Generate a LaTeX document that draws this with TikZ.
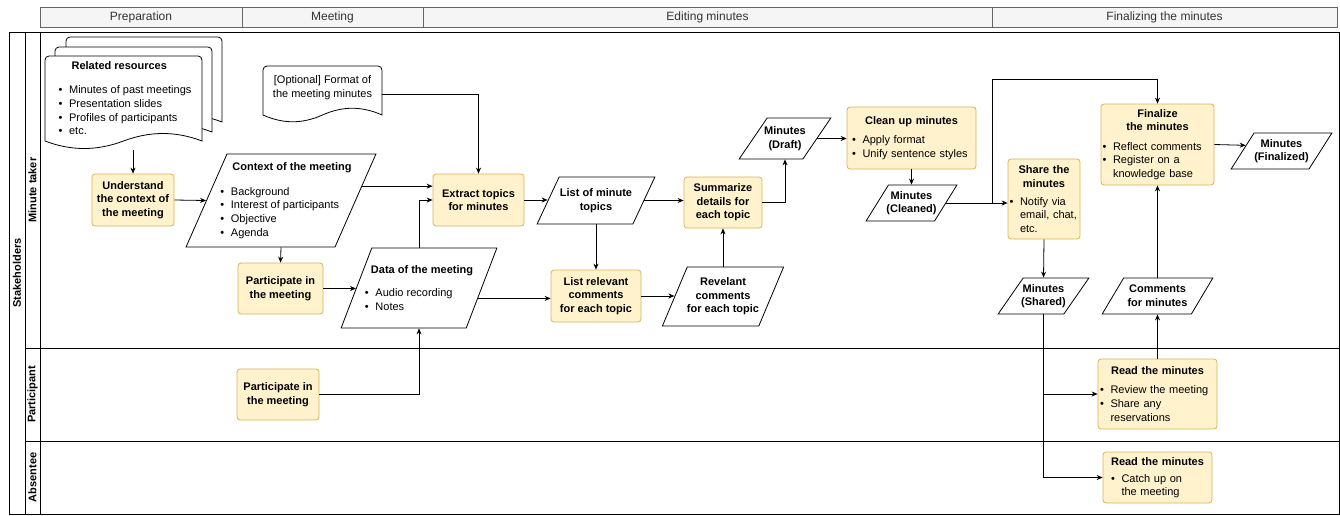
\documentclass[tikz,border=0pt]{standalone}
\usepackage{fontspec}
\setmainfont{Liberation Sans}
\usetikzlibrary{arrows.meta,positioning,calc,shapes.geometric}
\definecolor{taskfill}{HTML}{FFF2CC}
\definecolor{taskline}{HTML}{D6B656}
\definecolor{headfill}{HTML}{F5F5F5}
\definecolor{headline}{HTML}{666666}
\definecolor{headtext}{HTML}{333333}
\newcommand{\basefont}{\fontsize{11}{13.6}\selectfont}
\newcommand{\bitem}{\makebox[10.5pt][l]{\textbullet}}
\newcommand{\bcont}{\hspace*{10.5pt}}
\tikzset{
taskbox/.style={draw=taskline, fill=taskfill, rounded corners=3pt, line width=0.8pt, align=center, inner sep=2pt, font=\basefont\bfseries},
listbox/.style={draw=taskline, fill=taskfill, rounded corners=3pt, line width=0.8pt, align=left, inner ysep=2pt, font=\basefont},
databox/.style={draw, fill=white, line width=0.8pt, trapezium, trapezium left angle=62, trapezium right angle=118, trapezium stretches=true, inner xsep=-12pt, inner ysep=0pt, align=center, font=\basefont\bfseries},
doctext/.style={inner sep=0pt, font=\basefont},
docline/.style={draw, fill=white, line width=0.8pt},
headbox/.style={draw=headline, fill=headfill, text=headtext, minimum height=20pt, inner sep=0pt, font=\fontsize{12}{14}\selectfont},
lanelabel/.style={rotate=90, font=\basefont\bfseries},
flowarrow/.style={-{Stealth[length=6pt,width=5pt]}, line width=0.8pt}
}

\begin{document}
\begin{tikzpicture}[x=1pt,y=-1pt]
\useasboundingbox (0,0) rectangle (1340,515);

% phases
\node[headbox, minimum width=202pt] (hprep) at (141,17) {Preparation};
\node[headbox, minimum width=181pt] (hmeet) at (332.5,17) {Meeting};
\node[headbox, minimum width=569pt] (hedit) at (707.5,17) {Editing minutes};
\node[headbox, minimum width=345pt] (hfin) at (1164.5,17) {Finalizing the minutes};

% lanes
\draw[line width=1pt] (9,32) rectangle (1339,514);
\draw[line width=1pt] (25,32) -- (25,514);
\draw[line width=1pt] (40,32) -- (40,514);
\draw[line width=1pt] (25,348) -- (1339,348);
\draw[line width=1pt] (25,441) -- (1339,441);
\node[lanelabel] (lstake) at (17,273) {Stakeholders};
\node[lanelabel] (ltaker) at (32.5,190) {Minute taker};
\node[lanelabel] (lpart) at (32.5,394.5) {Participant};
\node[lanelabel] (labs) at (32.5,477.5) {Absentee};

% documents
\draw[docline] (66,122) [rounded corners=4pt] -- (66,37) -- (222,37) [sharp corners] -- (222,122)
  .. controls (196,112) and (170,112) .. (144,122) .. controls (118,132) and (92,132) .. (66,122) -- cycle;
\draw[docline] (55,132) [rounded corners=4pt] -- (55,47) -- (212,47) [sharp corners] -- (212,132)
  .. controls (186,122) and (160,122) .. (133.5,132) .. controls (107,142) and (81,142) .. (55,132) -- cycle;
\draw[docline] (45,141) [rounded corners=4pt] -- (45,56) -- (202,56) [sharp corners] -- (202,141)
  .. controls (176,131) and (150,131) .. (123.5,141) .. controls (97,151) and (71,151) .. (45,141) -- cycle;
\draw[docline] (263,115) [rounded corners=4pt] -- (263,66) -- (382,66) [sharp corners] -- (382,115)
  .. controls (362,106) and (342.5,106) .. (322.5,115) .. controls (302.5,124) and (283,124) .. (263,115) -- cycle;

\node[doctext, align=left] (res) at (125,98) {\hspace*{13pt}\textbf{Related resources}\\[11pt]
  \bitem Minutes of past meetings\\ \bitem Presentation slides\\ \bitem Profiles of participants\\ \bitem etc.};
\node[doctext, align=center, minimum width=119pt] (fmt) at (322.5,87.5) {[Optional] Format of\\the meeting minutes};

% minute taker
\node[taskbox, minimum width=82pt, minimum height=52pt] (ctxu) at (133,200) {Understand\\the context of\\the meeting};
\node[databox, minimum width=190pt, minimum height=93pt, trapezium left angle=65, trapezium right angle=115,
  inner xsep=-24pt, align=left, font=\basefont] (ctx) at (281,200.5)
  {\hspace*{22pt}\textbf{Context of the meeting}\\[11pt]
   \hspace*{10pt}\bitem Background\\ \hspace*{10pt}\bitem Interest of participants\\
   \hspace*{10pt}\bitem Objective\\ \hspace*{10pt}\bitem Agenda};
\node[taskbox, minimum width=85pt, minimum height=51pt] (partm) at (280.5,288.5) {Participate in\\the meeting};
\node[databox, minimum width=156pt, minimum height=80pt, trapezium left angle=64, trapezium right angle=116,
  inner xsep=-20pt, align=left, font=\basefont] (data) at (419,288)
  {\hspace*{6pt}\textbf{Data of the meeting}\\[10pt] \bitem Audio recording\\ \bitem Notes};
\node[taskbox, minimum width=91pt, minimum height=52pt] (extract) at (478.5,200) {Extract topics\\for minutes};
\node[databox, minimum width=118pt, minimum height=47pt, trapezium left angle=59, trapezium right angle=121] (topics) at (596,200.5) {List of minute\\topics};
\node[taskbox, minimum width=90pt, minimum height=52pt] (listrel) at (596,296) {List relevant\\comments\\for each topic};
\node[databox, minimum width=122pt, minimum height=59pt, trapezium left angle=66, trapezium right angle=114] (revel) at (723,296.5) {Revelant\\comments\\for each topic};
\node[taskbox, minimum width=78pt, minimum height=51pt] (summ) at (723,202.5) {Summarize\\details for\\each topic};
\node[databox, minimum width=92pt, minimum height=41pt, trapezium left angle=60, trapezium right angle=120] (draft) at (785,138.5) {Minutes\\(Draft)};
\node[listbox, text width=119pt, inner xsep=5pt, minimum height=62pt] (clean) at (911.5,138)
  {{\centering\textbf{Clean up minutes}\par}\vspace{6pt}\bitem Apply format\\ \bitem Unify sentence styles};
\node[databox, minimum width=91pt, minimum height=36pt] (cleaned) at (911.5,203) {Minutes\\(Cleaned)};
\node[listbox, text width=69pt, inner xsep=1.5pt, minimum height=80pt] (share) at (1044,199)
  {{\centering\textbf{Share the\\minutes}\par}\vspace{4.5pt}\bitem Notify via\\ \bcont email, chat,\\ \bcont etc.};
\node[databox, minimum width=91pt, minimum height=36pt] (shared) at (1043.5,296) {Minutes\\(Shared)};
\node[listbox, text width=110pt, inner xsep=1.5pt, minimum height=81pt] (final) at (1157.5,144.5)
  {{\centering\textbf{Finalize\\the minutes}\par}\vspace{5.5pt}\bitem Reflect comments\\ \bitem Register on a\\ \bcont knowledge base};
\node[databox, minimum width=101pt, minimum height=36pt] (finalized) at (1281.5,151) {Minutes\\(Finalized)};
\node[databox, minimum width=111pt, minimum height=36pt] (comments) at (1157.5,296) {Comments\\for minutes};

% participant and absentee
\node[taskbox, minimum width=82pt, minimum height=51pt] (partp) at (278,394.5) {Participate in\\the meeting};
\node[listbox, text width=115pt, inner xsep=2pt, minimum height=70pt] (readp) at (1157.5,394)
  {{\centering\textbf{Read the minutes}\par}\vspace{5.5pt}\bitem Review the meeting\\ \bitem Share any\\ \bcont reservations};
\node[listbox, text width=105pt, inner xsep=2pt, minimum height=51pt] (reada) at (1157.5,477.5)
  {{\centering\textbf{Read the minutes}\par}\vspace{3.5pt}\hspace*{6pt}\bitem Catch up on\\ \hspace*{6pt}\bcont the meeting};

% flow
\draw[flowarrow] ($(ctxu.north |- res.south)+(0,15)$) -- (ctxu.north);
\draw[flowarrow] (ctxu.east) -- (ctx.180);
\draw[flowarrow] (ctx.10) -- (ctx.10 -| extract.west);
\draw[flowarrow] (ctx.270) -- (partm.north);
\draw[flowarrow] (partm.east) -- (partm.east -| data.180);
\draw[flowarrow] (partp.east) -| (data.270);
\draw[flowarrow] (data.90) |- (extract.west);
\draw[flowarrow] ([yshift=-6.5pt]fmt.east) -| (extract.north);
\draw[flowarrow] (extract.east) -- (extract.east -| topics.180);
\draw[flowarrow] (topics.0) -- (topics.0 -| summ.west);
\draw[flowarrow] (topics.270) -- (listrel.north);
\draw[flowarrow] (data.-10) -- (data.-10 -| listrel.west);
\draw[flowarrow] (listrel.east) -- (listrel.east -| revel.180);
\draw[flowarrow] (revel.90) -- (summ.south);
\draw[flowarrow] (summ.east) -| (draft.270);
\draw[flowarrow] (draft.0) -- (draft.0 -| clean.west);
\draw[flowarrow] (clean.south) -- (cleaned.90);
\draw[flowarrow] (cleaned.0) -- (cleaned.0 -| share.west);
\coordinate (loopup) at (992,79);
\draw[flowarrow] (cleaned.0) -| (loopup) -| (final.north);
\draw[flowarrow] (final.east) -- (finalized.171);
\draw[flowarrow] (share.south) -- (shared.90);
\draw[flowarrow] (comments.90) -- (final.south);
\draw[flowarrow] (readp.north) -- (comments.270);
\draw[flowarrow] (shared.270) |- (readp.west);
\draw[flowarrow] (shared.270) |- (reada.west);
\end{tikzpicture}
\end{document}
